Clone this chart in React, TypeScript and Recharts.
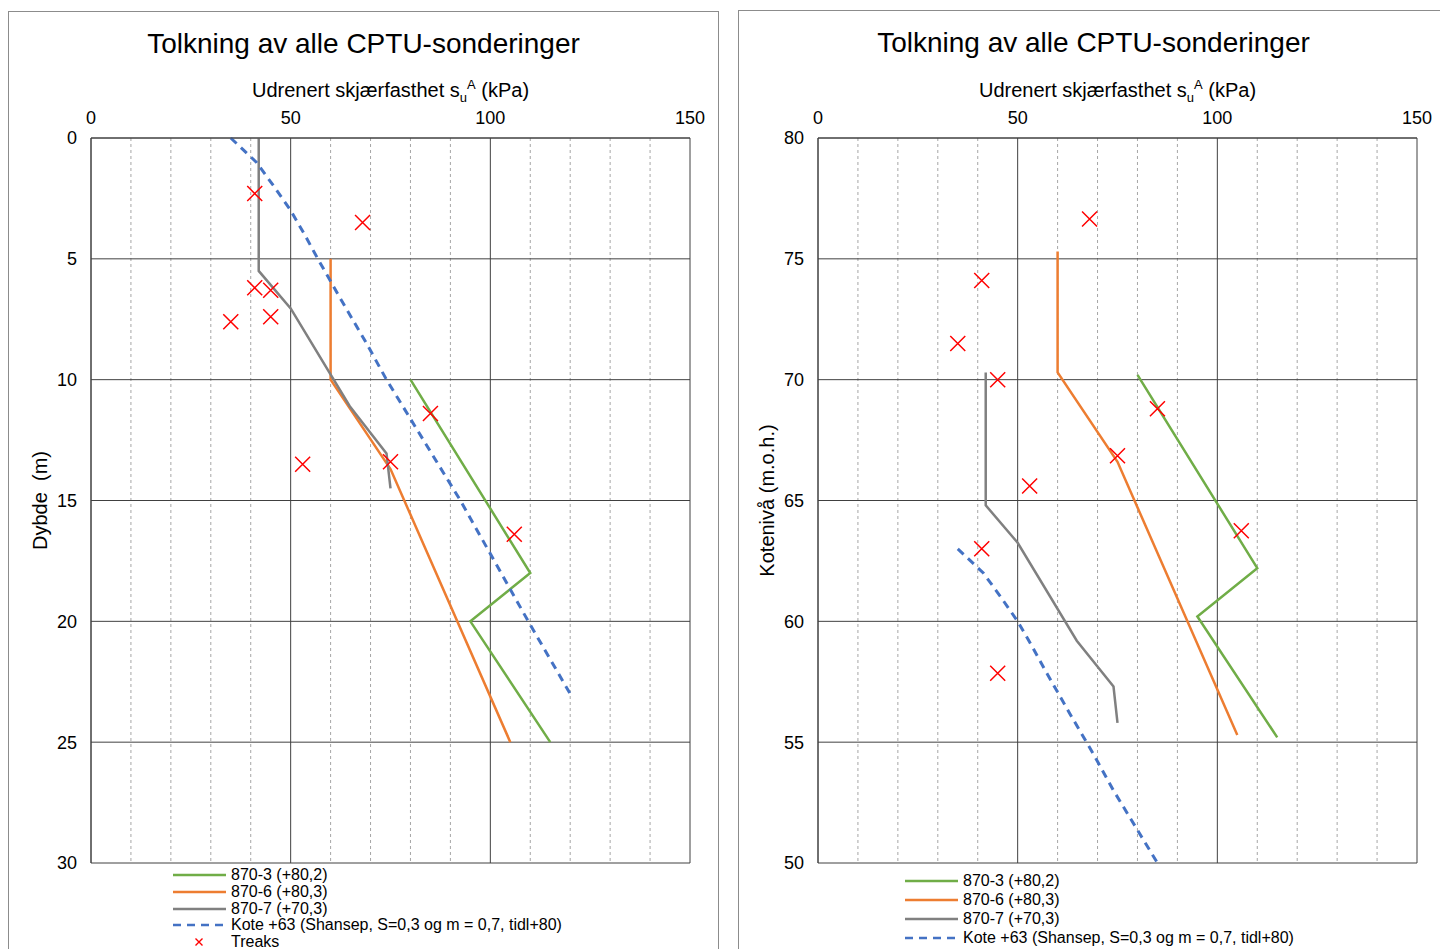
import React from "react";
import { CartesianGrid, ComposedChart, Legend, Line, Scatter, XAxis, YAxis } from "recharts";

const FONT = '"Liberation Sans", Arial, Helvetica, sans-serif';

// axes
const SU_TICKS = [0, 50, 100, 150];
const SU_MAJOR = [0, 50, 100, 150];
const SU_MINOR = [10, 20, 30, 40, 60, 70, 80, 90, 110, 120, 130, 140];
const DEPTH_TICKS = [0, 5, 10, 15, 20, 25, 30];
const KOTE_TICKS = [50, 55, 60, 65, 70, 75, 80];

// left chart: depth (m)
const D_870_3_SU = [80, 110, 95, 115];
const D_870_3_Z = [10, 18, 20, 25];
const D_870_6_SU = [60, 60, 75, 105];
const D_870_6_Z = [5, 10, 13.7, 25];
const D_870_7_SU = [42, 42, 50, 64.8, 74, 75];
const D_870_7_Z = [0, 5.5, 7.05, 11.1, 13.05, 14.5];
const D_KOTE63_SU = [35, 41.4, 45.8, 50, 53.5, 56.8, 63, 69, 74, 92.5, 109.5, 120];
const D_KOTE63_Z = [0, 1, 2, 3, 4, 5, 6.8, 8.5, 10, 15, 20, 23];
const D_TREAKS_SU = [41, 68, 41, 45, 35, 45, 85, 53, 75, 106];
const D_TREAKS_Z = [2.3, 3.5, 6.2, 6.3, 7.6, 7.4, 11.4, 13.5, 13.4, 16.4];

// right chart: kotenivå (m.o.h.)
const K_870_3_SU = [80, 110, 95, 115];
const K_870_3_Z = [70.2, 62.2, 60.2, 55.2];
const K_870_6_SU = [60, 60, 75, 105];
const K_870_6_Z = [75.3, 70.3, 66.6, 55.3];
const K_870_7_SU = [42, 42, 50, 64.8, 74, 75];
const K_870_7_Z = [70.3, 64.8, 63.25, 59.2, 57.3, 55.8];
const K_KOTE63_SU = [35, 41.4, 45.8, 50, 53.5, 56.8, 63, 69, 74, 85];
const K_KOTE63_Z = [63, 62, 61, 60, 59, 58, 56.2, 54.5, 53, 50];
const K_TREAKS_SU = [68, 41, 35, 45, 85, 75, 53, 106, 41, 45];
const K_TREAKS_Z = [76.65, 74.1, 71.5, 70.0, 68.8, 66.85, 65.6, 63.75, 63.0, 57.85];

type Pt = { x: number; y: number };
const pts = (xs: number[], ys: number[]): Pt[] => xs.map((x, i) => ({ x, y: ys[i] }));

const SERIES = [
  { key: "870-3", name: "870-3 (+80,2)", color: "#70AD47" },
  { key: "870-6", name: "870-6 (+80,3)", color: "#ED7D31" },
  { key: "870-7", name: "870-7 (+70,3)", color: "#808080" },
  { key: "kote63", name: "Kote +63 (Shansep, S=0,3 og m = 0,7, tidl+80)", color: "#4472C4", dash: "8 6" },
];
const TREAKS_NAME = "Treaks";
const RED = "#FF0000";

const PLOT_W = 599;
const PLOT_H = 725;
const CHART_W = 709;
const CHART_H = 940;

function Cross(props: any) {
  const { cx, cy } = props;
  if (cx == null || cy == null) return null;
  const s = 7.5;
  return (
    <path
      d={`M${cx - s},${cy - s}L${cx + s},${cy + s}M${cx - s},${cy + s}L${cx + s},${cy - s}`}
      stroke={RED}
      strokeWidth={1.5}
      fill="none"
    />
  );
}

function LegendBox({ rowH, withTreaks }: { rowH: number; withTreaks: boolean }) {
  return (
    <div style={{ fontFamily: FONT, fontSize: 16, color: "#000", lineHeight: 1 }}>
      {SERIES.map((s) => (
        <div key={s.key} style={{ display: "flex", alignItems: "center", height: rowH }}>
          <svg width={53} height={10} style={{ display: "block" }}>
            <line x1={0} y1={5} x2={53} y2={5} stroke={s.color} strokeWidth={2.5} strokeDasharray={s.dash} />
          </svg>
          <span style={{ marginLeft: 5, whiteSpace: "nowrap" }}>{s.name}</span>
        </div>
      ))}
      {withTreaks ? (
        <div style={{ display: "flex", alignItems: "center", height: rowH }}>
          <svg width={53} height={10} style={{ display: "block" }}>
            <path d="M22.5,1.5L29.5,8.5M22.5,8.5L29.5,1.5" stroke={RED} strokeWidth={1.4} fill="none" />
          </svg>
          <span style={{ marginLeft: 5, whiteSpace: "nowrap" }}>{TREAKS_NAME}</span>
        </div>
      ) : null}
    </div>
  );
}

type PanelProps = {
  left: number;
  top: number;
  plotLeft: number;
  plotTop: number;
  lines: Pt[][];
  treaks: Pt[];
  yDomain: [number, number];
  yTicks: number[];
  reversed: boolean;
  yTitle: string;
  legendLeft: number;
  legendTop: number;
  rowH: number;
  withTreaks: boolean;
};

function Panel(p: PanelProps) {
  const xAxisH = 50;
  const yAxisW = 40;
  const margin = {
    top: p.plotTop - xAxisH,
    left: p.plotLeft - yAxisW,
    right: CHART_W - p.plotLeft - PLOT_W,
    bottom: CHART_H - p.plotTop - PLOT_H,
  };
  const axisColor = "#404040";

  const xTitle = () => (
    <text
      x={p.plotLeft + PLOT_W / 2}
      y={p.plotTop - 41}
      textAnchor="middle"
      fontFamily={FONT}
      fontSize={20}
      fill="#000"
    >
      <tspan>Udrenert skjærfasthet s</tspan>
      <tspan dy={5} fontSize={13}>u</tspan>
      <tspan dy={-13} fontSize={13}>A</tspan>
      <tspan dy={8}> (kPa)</tspan>
    </text>
  );
  const yTitle = () => (
    <text
      x={p.plotLeft - 51}
      y={p.plotTop + PLOT_H / 2}
      transform={`rotate(-90 ${p.plotLeft - 51} ${p.plotTop + PLOT_H / 2})`}
      textAnchor="middle"
      dominantBaseline="central"
      fontFamily={FONT}
      fontSize={20}
      fill="#000"
      style={{ whiteSpace: "pre" }}
    >
      {p.yTitle}
    </text>
  );

  return (
    <div
      style={{
        position: "absolute",
        left: p.left,
        top: p.top,
        width: CHART_W + 2,
        height: 960,
        border: "1px solid #8c8c8c",
        boxSizing: "border-box",
        background: "#fff",
      }}
    >
      <div
        style={{
          position: "absolute",
          left: 0,
          right: 0,
          top: 16,
          textAlign: "center",
          fontFamily: FONT,
          fontSize: 28,
          lineHeight: "32px",
          color: "#000",
        }}
      >
        Tolkning av alle CPTU-sonderinger
      </div>
      <ComposedChart width={CHART_W} height={CHART_H} margin={margin} style={{ fontFamily: FONT }}>
        <CartesianGrid
          horizontal={false}
          verticalValues={SU_MINOR}
          stroke="#a6a6a6"
          strokeDasharray="3 3"
        />
        <CartesianGrid horizontalValues={p.yTicks} verticalValues={SU_MAJOR} stroke={axisColor} />
        <XAxis
          xAxisId={0}
          type="number"
          dataKey="x"
          orientation="top"
          domain={[0, 150]}
          ticks={SU_TICKS}
          height={xAxisH}
          tickLine={false}
          tickSize={0}
          tickMargin={14}
          axisLine={{ stroke: axisColor }}
          tick={{ fill: "#000", fontSize: 18, fontFamily: FONT }}
          interval={0}
          label={{ content: xTitle }}
        />
        <YAxis
          yAxisId={0}
          type="number"
          dataKey="y"
          domain={p.yDomain}
          ticks={p.yTicks}
          reversed={p.reversed}
          width={yAxisW}
          tickLine={false}
          tickSize={0}
          tickMargin={14}
          axisLine={{ stroke: axisColor }}
          tick={{ fill: "#000", fontSize: 18, fontFamily: FONT }}
          interval={0}
          label={{ content: yTitle }}
        />
        {SERIES.map((s, i) => (
          <Line
            key={s.key}
            data={p.lines[i]}
            dataKey="y"
            name={s.name}
            type="linear"
            stroke={s.color}
            strokeWidth={s.dash ? 3 : 2.5}
            strokeDasharray={s.dash}
            dot={false}
            activeDot={false}
            legendType="none"
            isAnimationActive={false}
          />
        ))}
        <Scatter
          data={p.treaks}
          name={TREAKS_NAME}
          shape={Cross}
          legendType="none"
          isAnimationActive={false}
        />
        <Legend
          layout="vertical"
          align="center"
          verticalAlign="middle"
          content={() => <LegendBox rowH={p.rowH} withTreaks={p.withTreaks} />}
          wrapperStyle={{ left: p.legendLeft, top: p.legendTop, width: "auto", height: "auto" }}
        />
      </ComposedChart>
    </div>
  );
}

export default function App() {
  return (
    <div
      style={{
        position: "absolute",
        left: 0,
        top: 0,
        width: 1440,
        height: 949,
        overflow: "hidden",
        background: "#fff",
      }}
    >
      <Panel
        left={8}
        top={11}
        plotLeft={82}
        plotTop={126}
        lines={[
          pts(D_870_3_SU, D_870_3_Z),
          pts(D_870_6_SU, D_870_6_Z),
          pts(D_870_7_SU, D_870_7_Z),
          pts(D_KOTE63_SU, D_KOTE63_Z),
        ]}
        treaks={pts(D_TREAKS_SU, D_TREAKS_Z)}
        yDomain={[0, 30]}
        yTicks={DEPTH_TICKS}
        reversed
        yTitle="Dybde  (m)"
        legendLeft={164}
        legendTop={855}
        rowH={16.7}
        withTreaks
      />
      <Panel
        left={738}
        top={10}
        plotLeft={79}
        plotTop={127}
        lines={[
          pts(K_870_3_SU, K_870_3_Z),
          pts(K_870_6_SU, K_870_6_Z),
          pts(K_870_7_SU, K_870_7_Z),
          pts(K_KOTE63_SU, K_KOTE63_Z),
        ]}
        treaks={pts(K_TREAKS_SU, K_TREAKS_Z)}
        yDomain={[50, 80]}
        yTicks={KOTE_TICKS}
        reversed={false}
        yTitle="Kotenivå (m.o.h.)"
        legendLeft={166}
        legendTop={860}
        rowH={19}
        withTreaks={false}
      />
    </div>
  );
}
